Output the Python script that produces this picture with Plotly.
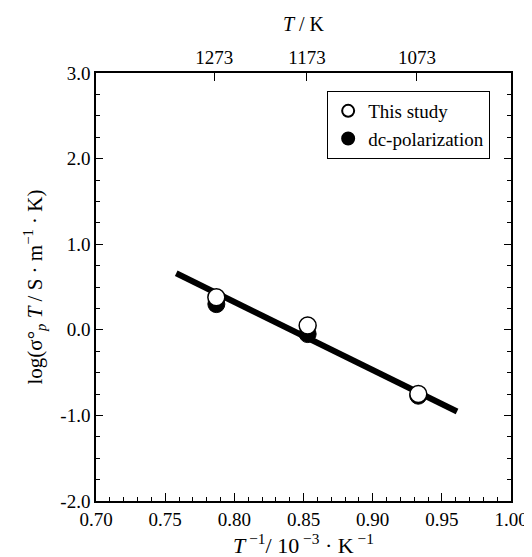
import plotly.graph_objects as go

# Data
inv_T_this = [0.787, 0.853, 0.933]
logsig_this = [0.38, 0.05, -0.75]
inv_T_dc = [0.787, 0.853, 0.933]
logsig_dc = [0.30, -0.05, -0.77]
fit_x = [0.758, 0.961]
fit_y = [0.66, -0.955]

x_ticks = [0.70, 0.75, 0.80, 0.85, 0.90, 0.95, 1.00]
x_ticktext = ["0.70", "0.75", "0.80", "0.85", "0.90", "0.95", "1.00"]
y_ticks = [3.0, 2.0, 1.0, 0.0, -1.0, -2.0]
y_ticktext = ["3.0", "2.0", "1.0", "0.0", "-1.0", "-2.0"]
top_T = [1273, 1173, 1073]

FONT = "Liberation Serif, Times New Roman, serif"

fig = go.Figure()

fig.add_trace(go.Scatter(x=fit_x, y=fit_y, mode="lines",
                         line=dict(color="black", width=6),
                         showlegend=False, hoverinfo="skip"))
fig.add_trace(go.Scatter(x=inv_T_dc, y=logsig_dc, mode="markers",
                         name="dc-polarization", legendrank=2,
                         marker=dict(symbol="circle", size=17, color="black",
                                     line=dict(color="black", width=1))))
fig.add_trace(go.Scatter(x=inv_T_this, y=logsig_this, mode="markers",
                         name="This study", legendrank=1,
                         marker=dict(symbol="circle", size=17, color="white",
                                     line=dict(color="black", width=1.5))))
# invisible trace to activate top axis
fig.add_trace(go.Scatter(x=[1000.0 / t for t in top_T], y=[None] * 3, xaxis="x2",
                         mode="markers", showlegend=False, hoverinfo="skip"))

fig.update_layout(
    width=532, height=557,
    margin=dict(l=88, r=17, t=65, b=61),
    paper_bgcolor="white", plot_bgcolor="white",
    font=dict(family=FONT, size=19, color="black"),
    xaxis=dict(range=[0.70, 1.00], tickvals=x_ticks, ticktext=x_ticktext,
               ticks="inside", ticklen=8, tickwidth=1, tickcolor="black",
               minor=dict(dtick=0.01, ticks="inside", ticklen=4, tickcolor="black"),
               showline=True, linecolor="black", linewidth=1.5,
               showgrid=False, zeroline=False, tickfont=dict(size=19),
               title=dict(text="<i>T</i><sup> −1</sup>/ 10<sup> −3</sup> · K<sup> −1</sup>",
                          font=dict(size=22), standoff=8)),
    xaxis2=dict(range=[0.70, 1.00], overlaying="x", side="top",
                tickvals=[1000.0 / t for t in top_T], ticktext=[str(t) for t in top_T],
                ticks="inside", ticklen=8, tickcolor="black",
                showline=True, linecolor="black", linewidth=1.5,
                showgrid=False, zeroline=False, tickfont=dict(size=19),
                title=dict(text="<i>T</i> / K", font=dict(size=20), standoff=10)),
    yaxis=dict(range=[-2.0, 3.0], tickvals=y_ticks, ticktext=y_ticktext,
               ticks="inside", ticklen=7, tickcolor="black",
               minor=dict(dtick=0.25, ticks="inside", ticklen=4, tickcolor="black"),
               showline=True, linecolor="black", linewidth=1.5, mirror="ticks",
               showgrid=False, zeroline=False, tickfont=dict(size=19),
               title=dict(text="log(σ°<sub><i>p</i></sub> <i>T</i> / S · m<sup>−1</sup> · K)",
                          font=dict(size=21), standoff=12)),
    legend=dict(x=0.557, y=0.958, xanchor="left", yanchor="top",
                bordercolor="black", borderwidth=1, bgcolor="white",
                font=dict(size=19), itemsizing="constant",
                tracegroupgap=4),
)

fig.write_html("out.html")
